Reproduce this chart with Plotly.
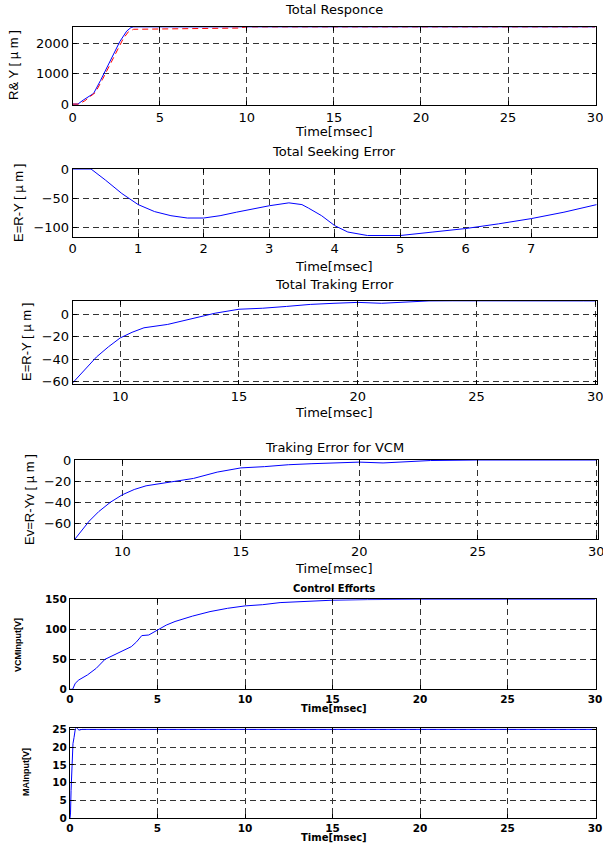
import plotly.graph_objects as go

# ---------------- data ----------------
# 1) Total Responce
resp_y_t = [0, 0.3, 0.6, 0.9, 1.2, 1.6, 2.0, 2.35, 2.7, 3.1, 3.35, 3.5, 30]
resp_y_v = [0, 0, 130, 240, 350, 780, 1240, 1650, 2050, 2400, 2520, 2540, 2540]
resp_r_t = [0, 0.35, 0.7, 1.0, 1.3, 1.7, 2.1, 2.5, 2.9, 3.2, 3.5, 5, 8, 9.5, 10, 30]
resp_r_v = [0, 0, 110, 230, 380, 800, 1250, 1720, 2150, 2380, 2460, 2470, 2490, 2500, 2540, 2540]

# 2) Total Seeking Error
seek_t = [0, 0.28, 0.5, 0.75, 1.0, 1.25, 1.5, 1.75, 2.0, 2.25, 2.5, 2.75, 3.0, 3.3,
          3.5, 3.6, 3.8, 4.0, 4.2, 4.5, 5.0, 5.5, 6.0, 6.5, 7.0, 7.5, 8.0]
seek_v = [0, 0, -19, -42, -61, -73, -80, -84, -84, -80, -74, -68, -63, -58,
          -61, -67, -80, -97, -108, -114, -114, -108, -102, -94, -85, -74, -61]

# 3) Total Traking Error
trk_t = [8, 8.5, 9, 9.5, 10, 10.5, 11, 12, 13, 14, 15, 16, 17, 18, 19, 20, 21, 22, 23, 24, 27, 28.5, 29.5, 30]
trk_v = [-61, -49, -38, -29, -21, -16, -12, -9, -4, 1, 4.5, 5.4, 7, 8.8, 9.8, 10.6, 9.8, 10.6, 11.9, 12, 12.3, 12.3, 11.9, 11.9]

# 4) Traking Error for VCM
vcm_t = [8, 8.6, 9, 9.5, 10, 10.5, 11, 12, 13, 14, 15, 16, 17, 18, 19, 20, 21, 22, 23, 25, 30]
vcm_v = [-75, -58, -49, -40, -33, -28, -24.5, -21, -17.5, -11.5, -7.5, -6.3, -4.5, -3.5, -2.5, -2, -2.8, -1.5, -0.5, 0, 0]

# 5) Control Efforts - VCM input
vin_t = [0, 0.15, 0.3, 0.5, 1, 1.5, 2, 2.5, 3, 3.5, 3.8, 4.1, 4.5, 5, 5.5, 6, 7, 8, 9, 10,
         11, 12, 13, 14, 15, 17, 20, 30]
vin_v = [0, 0, 10, 15.5, 24, 35, 50, 57, 64, 71, 79, 89.5, 90.5, 99, 107, 113, 122, 129.5, 135, 139,
         141, 144.5, 146, 147.5, 148.5, 149.5, 150, 150]

# 6) MA input
ma_t = [0, 0.03, 0.06, 0.11, 0.17, 0.23, 0.3, 0.37, 0.5, 0.7, 30]
ma_v = [0, 1.5, 7.8, 15.7, 21, 22.7, 25, 25.6, 24.8, 25, 25]

titles = ["Total Responce", "Total Seeking Error", "Total Traking Error",
          "Traking Error for VCM", "Control Efforts", ""]
ylabels = ["R& Y [ µ m ]", "E=R-Y [ µ m ]", "E=R-Y [ µ m ]", "Ev=R-Yv [ µ m ]",
           "VCMInput[V]", "MAInput[V]"]
xlabel = "Time[msec]"

# ---------------- layout helpers ----------------
W, H = 603, 843
def xd(a, b):
    return [a / W, b / W]
def yd(top, bottom):
    return [1 - bottom / H, 1 - top / H]
def px(x):
    return x / W
def py(y):
    return 1 - y / H

panels = [
    dict(x=(72.7, 596), y=(26.7, 105), xr=[0, 30.05], yr=[-30, 2545], xt=list(range(0, 31, 5)), yt=[0, 1000, 2000]),
    dict(x=(72.7, 596.7), y=(169, 236.7), xr=[0, 8], yr=[-116, 0], xt=list(range(0, 8)), yt=[-100, -50, 0]),
    dict(x=(72.7, 596.5), y=(300.7, 384), xr=[8, 30.05], yr=[-62, 12.1], xt=[10, 15, 20, 25, 30], yt=[-60, -40, -20, 0]),
    dict(x=(75, 597.5), y=(460, 539), xr=[8, 30.05], yr=[-75, 0], xt=[10, 15, 20, 25, 30], yt=[-60, -40, -20, 0]),
    dict(x=(70, 596), y=(599.3, 689.3), xr=[0, 30.05], yr=[0, 150], xt=list(range(0, 31, 5)), yt=[0, 50, 100, 150]),
    dict(x=(70, 596), y=(728.3, 818.3), xr=[0, 30.05], yr=[0, 25.3], xt=list(range(0, 31, 5)), yt=[0, 5, 10, 15, 20, 25]),
]

fig = go.Figure()
blue = "#0000ff"
red = "#ff0000"

def add(t, v, i, color, dash="solid"):
    fig.add_trace(go.Scatter(x=t, y=v, mode="lines", line=dict(color=color, width=1, dash=dash),
                             xaxis="x" if i == 1 else f"x{i}", yaxis="y" if i == 1 else f"y{i}",
                             showlegend=False, hoverinfo="skip"))

add(resp_y_t, resp_y_v, 1, blue)
add(resp_r_t, resp_r_v, 1, red, "6px,4px")
add(seek_t, seek_v, 2, blue)
add(trk_t, trk_v, 3, blue)
add(vcm_t, vcm_v, 4, blue)
add(vin_t, vin_v, 5, blue)
add(ma_t, ma_v, 6, blue)

layout = dict(width=W, height=H, margin=dict(l=0, r=0, t=0, b=0, autoexpand=False),
              paper_bgcolor="white", plot_bgcolor="white", showlegend=False)

big_font = dict(family="DejaVu Sans", size=13, color="black")
small_font = dict(family="DejaVu Sans", size=10.5, color="black", weight="bold")

annotations = []
for i, p in enumerate(panels, start=1):
    small = i >= 5
    tf = small_font if small else big_font
    common = dict(showline=True, linecolor="black", linewidth=1, mirror="ticks",
                  ticks="inside", ticklen=4, tickcolor="black", showgrid=True,
                  gridcolor="#333333", griddash="6px,4px", gridwidth=1, zeroline=False,
                  tickfont=tf, automargin=False, ticklabeloverflow="allow",
                  ticklabelposition="outside")
    xk = "xaxis" if i == 1 else f"xaxis{i}"
    yk = "yaxis" if i == 1 else f"yaxis{i}"
    layout[xk] = dict(common, domain=xd(*p["x"]), range=p["xr"], tickvals=p["xt"],
                      ticktext=[str(v) for v in p["xt"]],
                      anchor="y" if i == 1 else f"y{i}")
    layout[yk] = dict(common, domain=yd(*p["y"]), range=p["yr"], tickvals=p["yt"],
                      anchor="x" if i == 1 else f"x{i}")

# titles
title_pos = [10, 152, 284, 448, 588]
for i, yy in enumerate(title_pos):
    f = dict(family="DejaVu Sans", size=13, color="black") if i < 4 else dict(family="DejaVu Sans", size=10, color="black", weight="bold")
    annotations.append(dict(text=titles[i], x=px(334), y=py(yy), xref="paper", yref="paper",
                            showarrow=False, font=f, xanchor="center", yanchor="middle"))

# x labels
xl_pos = [131, 266, 412, 568, 708, 837]
for i, yy in enumerate(xl_pos):
    f = dict(family="DejaVu Sans", size=13, color="black") if i < 4 else dict(family="DejaVu Sans", size=10, color="black", weight="bold")
    annotations.append(dict(text=xlabel, x=px(334), y=py(yy), xref="paper", yref="paper",
                            showarrow=False, font=f, xanchor="center", yanchor="middle"))

# y labels
yl_pos = [(14, 65), (18, 203), (26, 342), (29, 500), (18, 645), (26, 772)]
yl_size = [13, 13, 13, 13, 9, 9]
for i, (xx, yy) in enumerate(yl_pos):
    f = dict(family="Liberation Sans", size=yl_size[i], color="black")
    if i >= 4:
        f["weight"] = "bold"
    annotations.append(dict(text=ylabels[i], x=px(xx), y=py(yy), xref="paper", yref="paper",
                            showarrow=False, font=f, textangle=-90, xanchor="center", yanchor="middle"))

layout["annotations"] = annotations
fig.update_layout(**layout)
fig.write_html("out.html", config={"displayModeBar": False},
               post_script="document.body.style.margin='0px';")
